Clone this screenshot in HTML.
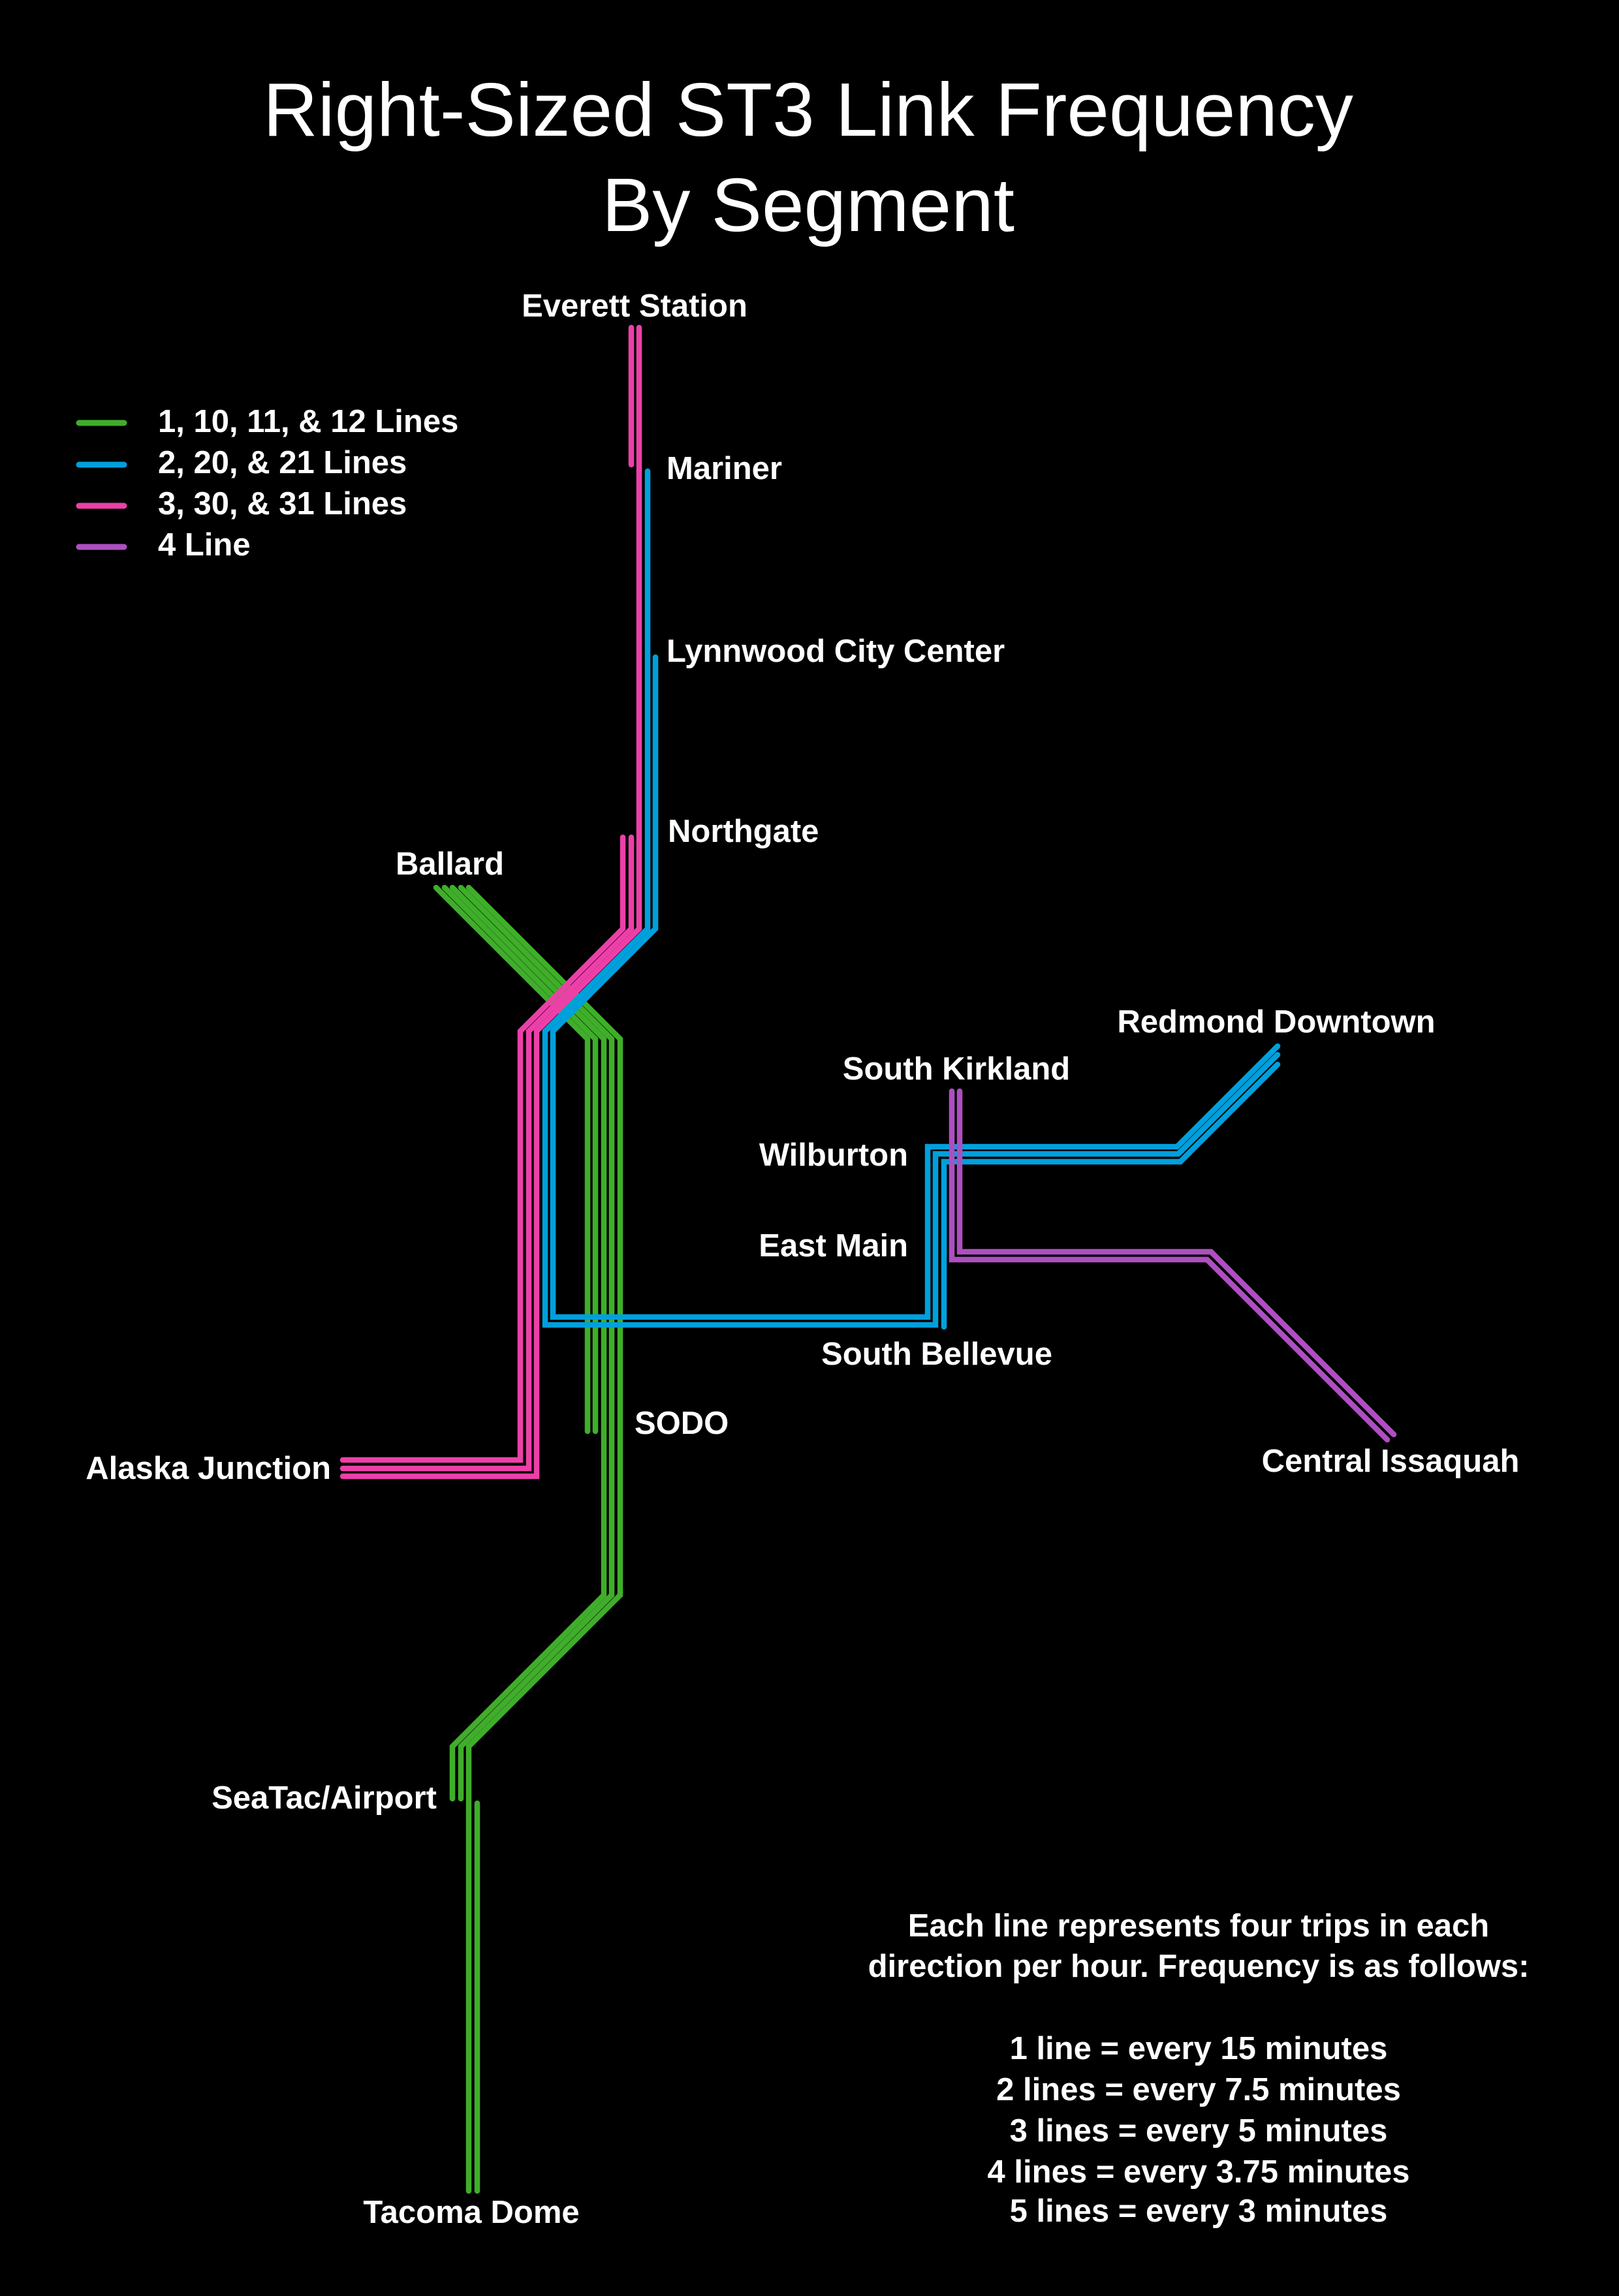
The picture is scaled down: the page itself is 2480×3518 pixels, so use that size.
<!DOCTYPE html>
<html><head><meta charset="utf-8"><style>
html,body{margin:0;padding:0;background:#000;}
svg{display:block;}
text{font-family:"Liberation Sans",Arial,sans-serif;fill:#fff;}
.b{font-weight:bold;font-size:49px;}
</style></head><body>
<svg width="2480" height="3518" viewBox="0 0 2480 3518" xmlns="http://www.w3.org/2000/svg">
<rect width="2480" height="3518" fill="#000"/>
<text x="1238" y="208" font-size="116" text-anchor="middle">Right-Sized ST3 Link Frequency</text>
<text x="1238" y="354" font-size="116" text-anchor="middle">By Segment</text>

<g stroke-width="9" stroke-linecap="round">
<line x1="121" y1="648" x2="190" y2="648" stroke="#3fae2a"/>
<line x1="121" y1="712" x2="190" y2="712" stroke="#00a0dc"/>
<line x1="121" y1="775" x2="190" y2="775" stroke="#ec40a8"/>
<line x1="121" y1="838" x2="190" y2="838" stroke="#ad4fc0"/>
</g>
<text class="b" x="242" y="662">1, 10, 11, &amp; 12 Lines</text>
<text class="b" x="242" y="725">2, 20, &amp; 21 Lines</text>
<text class="b" x="242" y="788">3, 30, &amp; 31 Lines</text>
<text class="b" x="242" y="851">4 Line</text>

<g fill="none" stroke-width="8.5" stroke-linecap="round" stroke-linejoin="miter">
<!-- green -->
<g stroke="#3fae2a">
<polyline points="668,1360 900,1592 900,2193"/>
<polyline points="681,1360 912,1592 912,2193"/>
<polyline points="693,1360 925,1592 925,2444 693,2676 693,2756"/>
<polyline points="706,1360 937,1592 937,2444 706,2676 706,2756"/>
<polyline points="718,1360 950,1592 950,2444 718,2676 718,3357"/>
<polyline points="731,2763 731,3357"/>
</g>
<!-- pink -->
<g stroke="#ec40a8">
<polyline points="967,502 967,712"/>
<polyline points="979,502 979,1423 822,1580 822,2262 525,2262"/>
<polyline points="967,1283 967,1423 810,1580 810,2250 525,2250"/>
<polyline points="954,1283 954,1423 797,1580 797,2237 525,2237"/>
</g>
<!-- blue -->
<g stroke="#00a0dc">
<polyline points="992,722 992,1423 835,1580 835,2030 1433,2030 1433,1768 1805,1768 1957,1616"/>
<polyline points="1004,1007 1004,1423 847,1580 847,2018 1421,2018 1421,1757 1803,1757 1957,1603"/>
<polyline points="1446,2033 1446,1780 1808,1780 1957,1631"/>
</g>
<!-- purple -->
<g stroke="#ad4fc0">
<polyline points="1458,1672 1458,1930 1849,1930 2125,2206"/>
<polyline points="1470,1672 1470,1918 1855,1918 2135,2198"/>
</g>
</g>

<text class="b" x="972" y="485" text-anchor="middle">Everett Station</text>
<text class="b" x="1021" y="734">Mariner</text>
<text class="b" x="1021" y="1014">Lynnwood City Center</text>
<text class="b" x="1023" y="1290">Northgate</text>
<text class="b" x="689" y="1340" text-anchor="middle">Ballard</text>
<text class="b" x="1955" y="1582" text-anchor="middle">Redmond Downtown</text>
<text class="b" x="1465" y="1654" text-anchor="middle">South Kirkland</text>
<text class="b" x="1391" y="1786" text-anchor="end">Wilburton</text>
<text class="b" x="1391" y="1925" text-anchor="end">East Main</text>
<text class="b" x="1435" y="2091" text-anchor="middle">South Bellevue</text>
<text class="b" x="972" y="2197">SODO</text>
<text class="b" x="2130" y="2255" text-anchor="middle">Central Issaquah</text>
<text class="b" x="507" y="2266" text-anchor="end">Alaska Junction</text>
<text class="b" x="669" y="2771" text-anchor="end">SeaTac/Airport</text>
<text class="b" x="722" y="3406" text-anchor="middle">Tacoma Dome</text>

<g text-anchor="middle">
<text class="b" x="1836" y="2967">Each line represents four trips in each</text>
<text class="b" x="1836" y="3029">direction per hour. Frequency is as follows:</text>
<text class="b" x="1836" y="3155">1 line = every 15 minutes</text>
<text class="b" x="1836" y="3218">2 lines = every 7.5 minutes</text>
<text class="b" x="1836" y="3281">3 lines = every 5 minutes</text>
<text class="b" x="1836" y="3344">4 lines = every 3.75 minutes</text>
<text class="b" x="1836" y="3404">5 lines = every 3 minutes</text>
</g>
</svg>
</body></html>
